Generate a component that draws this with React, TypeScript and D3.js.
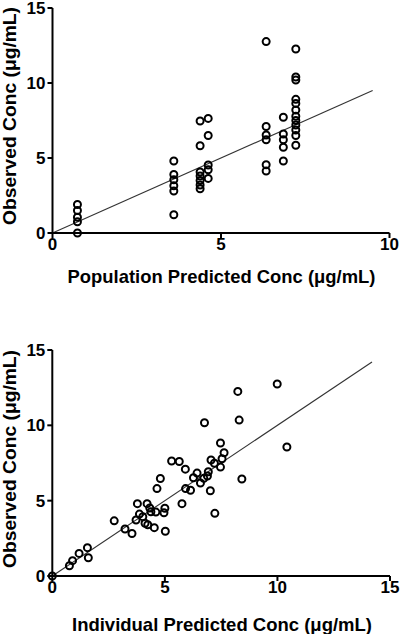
import React from "react";
import * as d3 from "d3";

// Top panel: population predicted vs observed
const popPredicted = [
  0.74, 0.74, 0.74, 0.74, 0.74,
  3.6, 3.6, 3.6, 3.6, 3.6, 3.6,
  4.38, 4.38, 4.38, 4.38, 4.38, 4.38, 4.38,
  4.62, 4.62, 4.62, 4.62, 4.62,
  6.34, 6.34, 6.34, 6.34, 6.34, 6.34,
  6.85, 6.85, 6.85, 6.85, 6.85,
  7.22, 7.22, 7.22, 7.22, 7.22, 7.22, 7.22, 7.22, 7.22, 7.22, 7.22, 7.22,
];
const popObserved = [
  0, 0.75, 1.05, 1.5, 1.9,
  1.22, 2.8, 3.15, 3.55, 3.9, 4.8,
  2.95, 3.2, 3.5, 3.8, 4.07, 5.82, 7.47,
  3.64, 4.22, 4.53, 6.5, 7.64,
  4.13, 4.55, 6.22, 6.53, 7.1, 12.76,
  4.8, 5.72, 6.22, 6.6, 7.72,
  5.85, 6.5, 6.87, 7.2, 7.5, 7.78, 8.2, 8.64, 8.91, 10.2, 10.4, 12.27,
];

// Bottom panel: individual predicted vs observed
const indPredicted = [
  0, 0.76, 0.9, 1.19, 1.56, 1.6, 2.75, 3.23, 3.54, 3.72, 3.78, 3.87, 4.02,
  4.12, 4.24, 4.21, 4.33, 4.38, 4.53, 4.6, 4.65, 4.8, 4.96, 5.0, 5.02,
  5.3, 5.64, 5.76, 5.91, 5.92, 6.14, 6.27, 6.43, 6.58, 6.73, 6.76, 6.89,
  6.93, 7.02, 7.05, 7.2, 7.22, 7.47, 7.47, 7.54, 7.63, 8.24, 8.3, 8.42,
  9.99, 10.42,
];
const indObserved = [
  0, 0.68, 1.02, 1.5, 1.88, 1.21, 3.66, 3.12, 2.82, 3.72, 4.8, 4.11, 3.94,
  3.5, 3.4, 4.8, 4.51, 4.26, 3.21, 4.24, 5.8, 6.47, 4.2, 4.5, 2.97,
  7.63, 7.6, 4.8, 7.09, 5.8, 5.69, 6.52, 6.83, 6.17, 6.48, 10.17, 6.64,
  6.92, 5.66, 7.7, 7.48, 4.16, 7.23, 8.83, 7.78, 8.18, 12.25, 10.35, 6.44,
  12.74, 8.56,
];

const xTicksTop = [0, 5, 10];
const xTicksBottom = [0, 5, 10, 15];
const yTicks = [0, 5, 10, 15];

const FONT = "'Liberation Sans', Arial, Helvetica, sans-serif";

type PanelProps = {
  xs: number[];
  ys: number[];
  xDomain: [number, number];
  xRange: [number, number];
  yRange: [number, number];
  xTicks: number[];
  lineEnd: number;
  xTitle: string;
  xTitleX: number;
  xTitleLen: number;
  tickLabelY: number;
  xTitleY: number;
  yTitleCenter: number;
};

function Panel(p: PanelProps) {
  const x = d3.scaleLinear().domain(p.xDomain).range(p.xRange);
  const y = d3.scaleLinear().domain([0, 15]).range(p.yRange);
  const line = d3.line<number>().x((d) => x(d)).y((d) => y(d));
  const x0 = x(0);
  const y0 = y(0);
  return (
    <g>
      {/* identity line */}
      <path d={line([0, p.lineEnd]) || ""} stroke="#333" strokeWidth={1.1} fill="none" />
      {/* axes */}
      <line x1={x0} x2={x0} y1={y(15)} y2={y0 + 1} stroke="#000" strokeWidth={2} />
      <line x1={x0 - 1} x2={x(p.xDomain[1])} y1={y0} y2={y0} stroke="#000" strokeWidth={2} />
      {p.xTicks.map((t) => (
        <g key={"xt" + t}>
          <line x1={x(t)} x2={x(t)} y1={y0} y2={y0 + 5} stroke="#000" strokeWidth={2} />
          <text
            x={x(t)}
            y={p.tickLabelY}
            textAnchor="middle"
            fontFamily={FONT}
            fontWeight="bold"
            fontSize={17}
            fill="#000"
          >
            {t}
          </text>
        </g>
      ))}
      {yTicks.map((t) => (
        <g key={"yt" + t}>
          <line x1={x0 - 5} x2={x0} y1={y(t)} y2={y(t)} stroke="#000" strokeWidth={2} />
          <text
            x={x0 - 7}
            y={y(t)}
            dy="0.36em"
            textAnchor="end"
            fontFamily={FONT}
            fontWeight="bold"
            fontSize={17}
            fill="#000"
          >
            {t}
          </text>
        </g>
      ))}
      {/* points */}
      {p.xs.map((v, i) => (
        <circle
          key={i}
          cx={x(v)}
          cy={y(p.ys[i])}
          r={3.5}
          fill="none"
          stroke="#000"
          strokeWidth={2}
        />
      ))}
      {/* titles */}
      <text
        x={p.xTitleX}
        y={p.xTitleY}
        textAnchor="middle"
        fontFamily={FONT}
        fontWeight="bold"
        fontSize={18.5}
        textLength={p.xTitleLen}
        lengthAdjust="spacingAndGlyphs"
        fill="#000"
      >
        {p.xTitle}
      </text>
      <text
        transform={`translate(16, ${p.yTitleCenter}) rotate(-90)`}
        textAnchor="middle"
        fontFamily={FONT}
        fontWeight="bold"
        fontSize={18.5}
        textLength={218}
        lengthAdjust="spacingAndGlyphs"
        fill="#000"
      >
        Observed Conc (μg/mL)
      </text>
    </g>
  );
}

export default function App() {
  return (
    <svg
      width={400}
      height={634}
      style={{ position: "absolute", left: 0, top: 0, background: "#fff" }}
    >
      <rect x={0} y={0} width={400} height={634} fill="#fff" />
      <Panel
        xs={popPredicted}
        ys={popObserved}
        xDomain={[0, 10]}
        xRange={[52.5, 389.5]}
        yRange={[233, 8]}
        xTicks={xTicksTop}
        lineEnd={9.5}
        xTitle="Population Predicted Conc (μg/mL)"
        xTitleX={221.5}
        xTitleLen={308}
        tickLabelY={250}
        xTitleY={283}
        yTitleCenter={116}
      />
      <Panel
        xs={indPredicted}
        ys={indObserved}
        xDomain={[0, 15]}
        xRange={[52.3, 390]}
        yRange={[576, 350]}
        xTicks={xTicksBottom}
        lineEnd={14.2}
        xTitle="Individual Predicted Conc (μg/mL)"
        xTitleX={222}
        xTitleLen={300}
        tickLabelY={593}
        xTitleY={631}
        yTitleCenter={459}
      />
    </svg>
  );
}
